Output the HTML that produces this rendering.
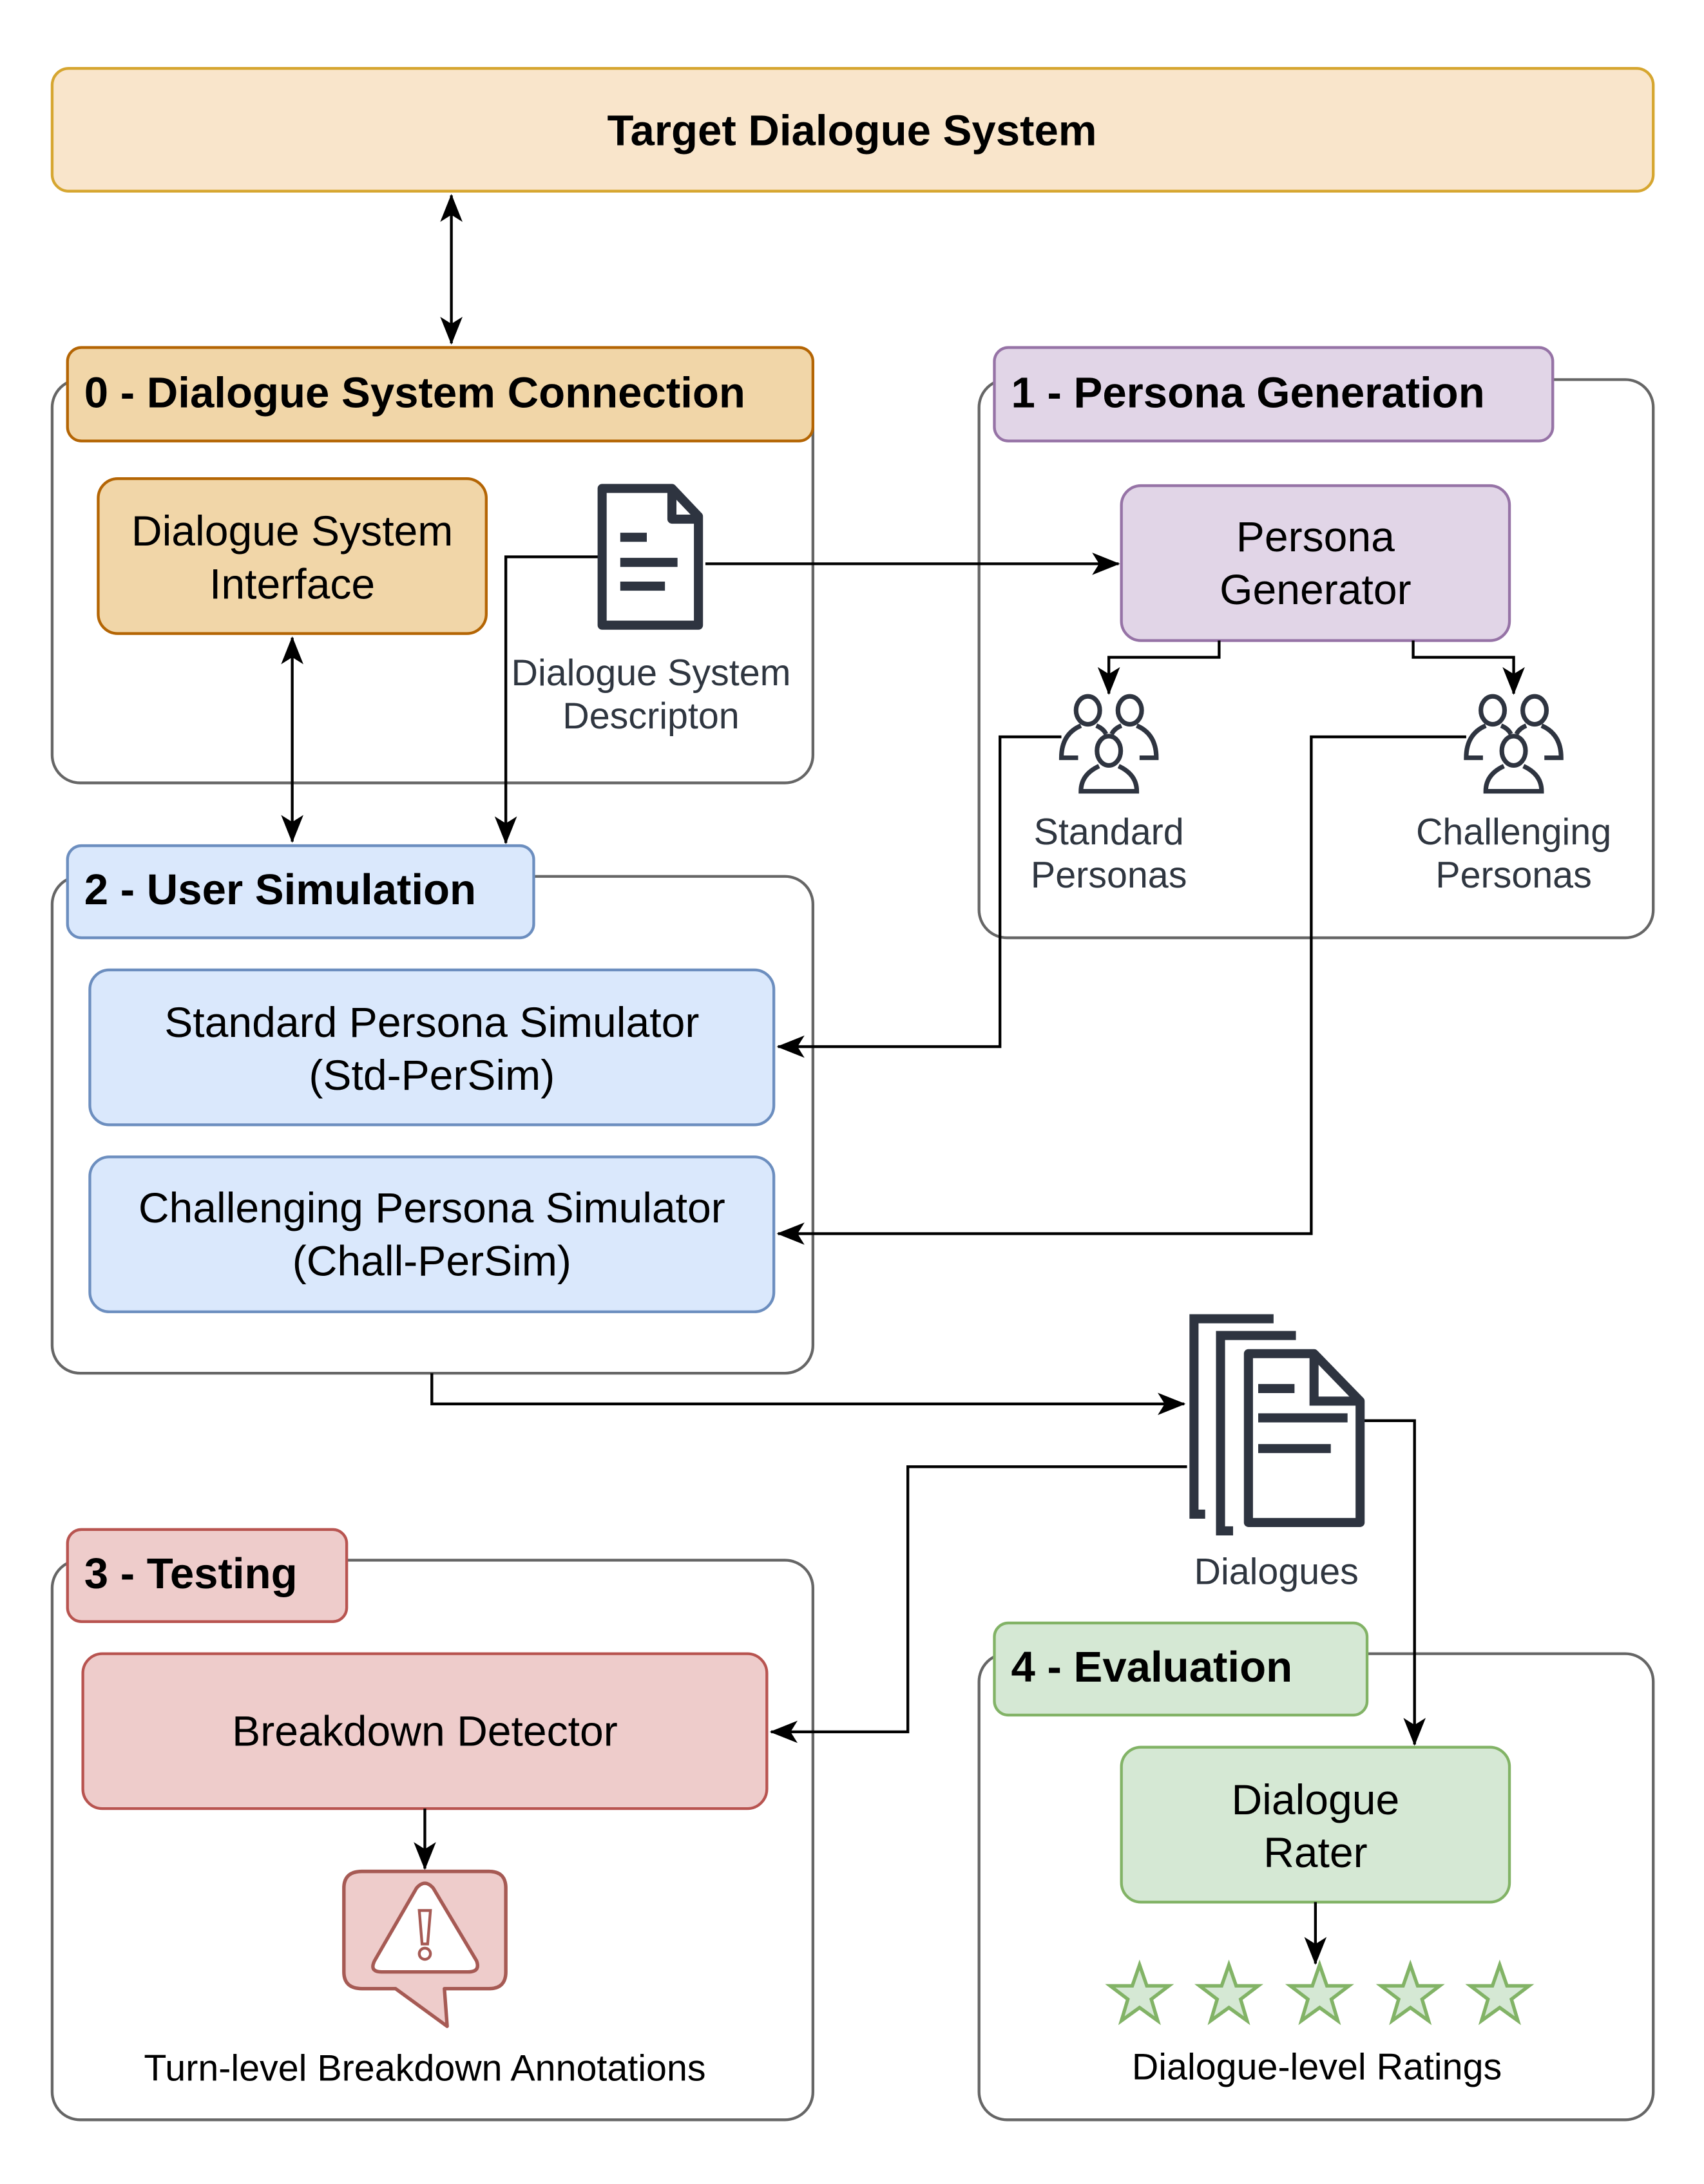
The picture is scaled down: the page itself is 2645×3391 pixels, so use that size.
<!DOCTYPE html>
<html><head><meta charset="utf-8"><style>
html,body{margin:0;padding:0;background:#fff;}
svg{display:block;}
text{font-family:"Liberation Sans",Arial,sans-serif;}
</style></head><body>
<svg width="2645" height="3391" viewBox="0 0 1220 1565" xmlns="http://www.w3.org/2000/svg">
<defs>
<marker id="b" viewBox="0 0 20 20" refX="19" refY="10" markerWidth="20" markerHeight="20" orient="auto-start-reverse" markerUnits="userSpaceOnUse">
<path d="M0,2 L20,10 L0,18 L5,10 Z" fill="#000"/></marker>
<g id="people" fill="none" stroke="#2e3440" stroke-width="3.3">
<ellipse cx="-15" cy="11" rx="8.5" ry="10"/><ellipse cx="15" cy="11" rx="8.5" ry="10"/>
<path d="M-20,22 Q-34,28 -34,45 L-22,45"/>
<path d="M-9,22 Q-4,24 -2,28"/>
<path d="M20,22 Q34,28 34,45 L22,45"/>
<path d="M9,22 Q4,24 2,28"/>
<ellipse cx="0" cy="40" rx="8.5" ry="10.5"/>
<path d="M-7,51 Q-20,57 -20,69 L20,69 Q20,57 7,51"/>
</g>
<polygon id="star" points="0,-22 5.2,-7 21,-7 8.4,2.6 13,18 0,8.6 -13,18 -8.4,2.6 -21,-7 -5.2,-7" fill="#d5e8d4" stroke="#82b366" stroke-width="2.5"/>
</defs>

<!-- Target -->
<rect x="37" y="49" width="1147" height="88" rx="12" fill="#f9e5cb" stroke="#d6a630" stroke-width="2"/>
<text x="610" y="104" text-anchor="middle" font-size="31" font-weight="bold">Target Dialogue System</text>

<!-- containers -->
<g fill="#fff" stroke="#666" stroke-width="2">
<rect x="37" y="272" width="545" height="289" rx="20"/>
<rect x="701" y="272" width="483" height="400" rx="20"/>
<rect x="37" y="628" width="545" height="356" rx="20"/>
<rect x="37" y="1118" width="545" height="401" rx="20"/>
<rect x="701" y="1185" width="483" height="334" rx="20"/>
</g>

<!-- headers -->
<rect x="48" y="249" width="534" height="67" rx="10" fill="#f1d6a8" stroke="#b46504" stroke-width="2"/>
<text x="60" y="292" font-size="31" font-weight="bold">0 - Dialogue System Connection</text>
<rect x="712" y="249" width="400" height="67" rx="10" fill="#e1d5e7" stroke="#9673a6" stroke-width="2"/>
<text x="724" y="292" font-size="31" font-weight="bold">1 - Persona Generation</text>
<rect x="48" y="606" width="334" height="66" rx="10" fill="#dae8fc" stroke="#6c8ebf" stroke-width="2"/>
<text x="60" y="648" font-size="31" font-weight="bold">2 - User Simulation</text>
<rect x="48" y="1096" width="200" height="66" rx="10" fill="#eecccb" stroke="#b85450" stroke-width="2"/>
<text x="60" y="1138" font-size="31" font-weight="bold">3 - Testing</text>
<rect x="712" y="1163" width="267" height="66" rx="10" fill="#d5e8d4" stroke="#82b366" stroke-width="2"/>
<text x="724" y="1205" font-size="31" font-weight="bold">4 - Evaluation</text>

<!-- boxes -->
<rect x="70" y="343" width="278" height="111" rx="14" fill="#f1d6a8" stroke="#b46504" stroke-width="2"/>
<text x="209" y="391" text-anchor="middle" font-size="30.5">Dialogue System</text>
<text x="209" y="429" text-anchor="middle" font-size="30.5">Interface</text>
<rect x="803" y="348" width="278" height="111" rx="14" fill="#e1d5e7" stroke="#9673a6" stroke-width="2"/>
<text x="942" y="395" text-anchor="middle" font-size="30.5">Persona</text>
<text x="942" y="433" text-anchor="middle" font-size="30.5">Generator</text>
<rect x="64" y="695" width="490" height="111" rx="14" fill="#dae8fc" stroke="#6c8ebf" stroke-width="2"/>
<text x="309" y="743" text-anchor="middle" font-size="30.5">Standard Persona Simulator</text>
<text x="309" y="781" text-anchor="middle" font-size="30.5">(Std-PerSim)</text>
<rect x="64" y="829" width="490" height="111" rx="14" fill="#dae8fc" stroke="#6c8ebf" stroke-width="2"/>
<text x="309" y="876" text-anchor="middle" font-size="30.5">Challenging Persona Simulator</text>
<text x="309" y="914" text-anchor="middle" font-size="30.5">(Chall-PerSim)</text>
<rect x="59" y="1185" width="490" height="111" rx="14" fill="#eecccb" stroke="#b85450" stroke-width="2"/>
<text x="304" y="1251" text-anchor="middle" font-size="30.5">Breakdown Detector</text>
<rect x="803" y="1252" width="278" height="111" rx="14" fill="#d5e8d4" stroke="#82b366" stroke-width="2"/>
<text x="942" y="1300" text-anchor="middle" font-size="30.5">Dialogue</text>
<text x="942" y="1338" text-anchor="middle" font-size="30.5">Rater</text>

<!-- connectors -->
<g fill="none" stroke="#000" stroke-width="2">
<path d="M323,140 L323,246" marker-start="url(#b)" marker-end="url(#b)"/>
<path d="M209,457 L209,603" marker-start="url(#b)" marker-end="url(#b)"/>
<path d="M505,404 L801,404" marker-end="url(#b)"/>
<path d="M428,399 L362,399 L362,604" marker-end="url(#b)"/>
<path d="M873,459 L873,471 L794,471 L794,497" marker-end="url(#b)"/>
<path d="M1012,459 L1012,471 L1084,471 L1084,497" marker-end="url(#b)"/>
<path d="M760,528 L716,528 L716,750 L557,750" marker-end="url(#b)"/>
<path d="M1050,528 L939,528 L939,884 L557,884" marker-end="url(#b)"/>
<path d="M309,984 L309,1006 L848,1006" marker-end="url(#b)"/>
<path d="M850,1051 L650,1051 L650,1241 L552,1241" marker-end="url(#b)"/>
<path d="M977,1018 L1013,1018 L1013,1250" marker-end="url(#b)"/>
<path d="M304,1296 L304,1339" marker-end="url(#b)"/>
<path d="M942,1363 L942,1407" marker-end="url(#b)"/>
</g>

<!-- doc icon -->
<g fill="none" stroke="#2e3440" stroke-width="6.5" stroke-linejoin="round">
<path d="M431,350 L481,350 L500,370 L500,448 L431,448 Z"/>
<path d="M481,350 L481,372 L500,372"/>
<path d="M444,385 L463,385 M444,403 L485,403 M444,420 L476,420" stroke-linecap="butt"/>
</g>
<text x="466" y="491" text-anchor="middle" font-size="26.5" fill="#2f3640">Dialogue System</text>
<text x="466" y="522" text-anchor="middle" font-size="26.5" fill="#2f3640">Descripton</text>

<!-- people -->
<use href="#people" x="794" y="498"/>
<use href="#people" x="1084" y="498"/>
<text x="794" y="605" text-anchor="middle" font-size="26.5" fill="#2f3640">Standard</text>
<text x="794" y="636" text-anchor="middle" font-size="26.5" fill="#2f3640">Personas</text>
<text x="1084" y="605" text-anchor="middle" font-size="26.5" fill="#2f3640">Challenging</text>
<text x="1084" y="636" text-anchor="middle" font-size="26.5" fill="#2f3640">Personas</text>

<!-- dialogues stack -->
<g fill="none" stroke="#2e3440" stroke-width="6.5">
<path d="M912,945 L855,945 L855,1085 L863,1085"/>
<path d="M928,957 L874,957 L874,1097 L883,1097"/>
<path d="M894,970 L941,970 L974,1004 L974,1091 L894,1091 Z" stroke-linejoin="round"/>
<path d="M941,970 L941,1004 L974,1004"/>
<path d="M901,995 L927,995 M901,1016 L965,1016 M901,1038 L953,1038"/>
</g>
<text x="914" y="1135" text-anchor="middle" font-size="26.5" fill="#2f3640">Dialogues</text>

<!-- warning bubble -->
<path d="M259,1341 L350,1341 Q362,1341 362,1353 L362,1413 Q362,1425 350,1425 L318,1425 L320,1452 L283,1425 L259,1425 Q246,1425 246,1413 L246,1353 Q246,1341 259,1341 Z" fill="#eecccb" stroke="#a65a54" stroke-width="2.5" stroke-linejoin="round"/>
<path d="M298,1353 Q304,1346 310,1353 L341,1405 Q344,1413 335,1413 L273,1413 Q264,1413 268,1405 Z" fill="#fff" stroke="#a65a54" stroke-width="2.5"/>
<path d="M300,1369 L308,1369 L306,1393 L302,1393 Z" fill="none" stroke="#a65a54" stroke-width="2"/>
<circle cx="304" cy="1400" r="4" fill="none" stroke="#a65a54" stroke-width="2"/>
<text x="304" y="1491" text-anchor="middle" font-size="26.5" fill="#000">Turn-level Breakdown Annotations</text>

<!-- stars -->
<use href="#star" x="816" y="1430"/>
<use href="#star" x="880" y="1430"/>
<use href="#star" x="945" y="1430"/>
<use href="#star" x="1010" y="1430"/>
<use href="#star" x="1074" y="1430"/>
<text x="943" y="1490" text-anchor="middle" font-size="26.5" fill="#000">Dialogue-level Ratings</text>
</svg>
</body></html>
